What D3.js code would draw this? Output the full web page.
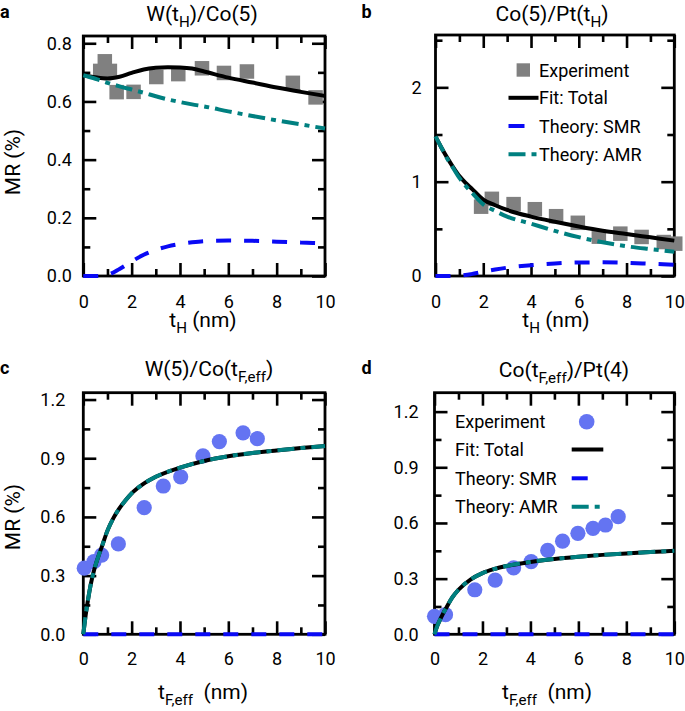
<!DOCTYPE html>
<html><head><meta charset="utf-8">
<script src="https://cdn.jsdelivr.net/npm/d3@7"></script>
<style>
body{margin:0;background:#fff}
svg{display:block}
text{font-family:Roboto,'Noto Sans',sans-serif;white-space:pre}
</style>
</head><body>
<svg id="chart" width="685" height="711"></svg>
<script>
// ---------- data ----------
const legendLabels = ["Experiment", "Fit: Total", "Theory: SMR", "Theory: AMR"];

// panel a : W(tH)/Co(5)
const aExpT  = [0.70, 0.89, 1.10, 1.38, 2.08, 3.02, 3.93, 4.91, 5.82, 6.77, 8.67, 9.61];
const aExpMR = [0.705, 0.738, 0.705, 0.632, 0.633, 0.684, 0.694, 0.714, 0.698, 0.703, 0.664, 0.614];
const aCurveT = [0, 0.5, 1, 1.5, 2, 2.5, 3, 3.5, 4, 4.5, 5, 6, 7, 8, 9, 10];
const aTotal  = [0.690, 0.683, 0.679, 0.685, 0.698, 0.710, 0.716, 0.718, 0.717, 0.713, 0.703, 0.682, 0.665, 0.648, 0.633, 0.619];
const aSMR    = [0, 0, 0.004, 0.024, 0.050, 0.073, 0.090, 0.102, 0.110, 0.116, 0.120, 0.122, 0.121, 0.118, 0.115, 0.112];
const aAMR    = [0.690, 0.678, 0.664, 0.652, 0.641, 0.630, 0.618, 0.607, 0.598, 0.590, 0.583, 0.566, 0.550, 0.535, 0.521, 0.507];
const aYTicks = [0, 0.2, 0.4, 0.6, 0.8];
const aYMinor = [0.1, 0.3, 0.5, 0.7];

// panel b : Co(5)/Pt(tH)
const bExpT  = [1.91, 2.36, 3.27, 4.16, 5.05, 5.96, 6.84, 7.74, 8.63, 9.56, 10.04];
const bExpMR = [0.735, 0.818, 0.762, 0.708, 0.634, 0.564, 0.417, 0.449, 0.414, 0.360, 0.343];
const bCurveT = [0, 0.25, 0.5, 0.75, 1, 1.25, 1.5, 2, 2.5, 3, 4, 5, 6, 7, 8, 9, 10];
const bTotal  = [1.48, 1.36, 1.25, 1.15, 1.06, 0.99, 0.93, 0.81, 0.75, 0.70, 0.63, 0.575, 0.525, 0.480, 0.445, 0.410, 0.375];
const bSMR    = [0, 0, 0, 0, 0.004, 0.010, 0.020, 0.045, 0.068, 0.088, 0.115, 0.133, 0.143, 0.145, 0.140, 0.130, 0.120];
const bAMR    = [1.48, 1.36, 1.24, 1.14, 1.04, 0.96, 0.89, 0.76, 0.69, 0.63, 0.555, 0.478, 0.412, 0.358, 0.315, 0.285, 0.258];
const bYTicks = [0, 1, 2];
const bYMinor = [0.5, 1.5, 2.5];

// panel c : W(5)/Co(tF,eff)
const cExpT  = [0.04, 0.44, 0.76, 1.45, 2.52, 3.31, 4.03, 4.95, 5.63, 6.61, 7.20];
const cExpMR = [0.338, 0.371, 0.405, 0.462, 0.648, 0.758, 0.805, 0.912, 0.985, 1.030, 1.000];
const cCurveT = [0, 0.1, 0.2, 0.3, 0.45, 0.6, 0.8, 1, 1.25, 1.5, 1.75, 2, 2.5, 3, 4, 5, 6, 7, 8, 9, 10];
const cTotal  = [0, 0.10, 0.18, 0.25, 0.33, 0.39, 0.46, 0.53, 0.595, 0.645, 0.685, 0.72, 0.77, 0.805, 0.852, 0.886, 0.910, 0.927, 0.940, 0.952, 0.962];
const cSMR    = [0, 0, 0, 0, 0, 0, 0, 0, 0, 0, 0, 0, 0, 0, 0, 0, 0, 0, 0, 0, 0];
const cAMR    = [0, 0.10, 0.18, 0.25, 0.33, 0.39, 0.46, 0.53, 0.595, 0.645, 0.685, 0.72, 0.77, 0.805, 0.852, 0.886, 0.910, 0.927, 0.940, 0.952, 0.962];
const cYTicks = [0, 0.3, 0.6, 0.9, 1.2];
const cYMinor = [0.15, 0.45, 0.75, 1.05];

// panel d : Co(tF,eff)/Pt(4)
const dExpT  = [0, 0.46, 1.68, 2.53, 3.30, 4.03, 4.72, 5.34, 5.98, 6.61, 7.13, 7.66];
const dExpMR = [0.097, 0.106, 0.240, 0.292, 0.358, 0.392, 0.452, 0.502, 0.544, 0.571, 0.589, 0.634];
const dCurveT = [0, 0.1, 0.2, 0.35, 0.5, 0.75, 1, 1.5, 2, 2.5, 3, 4, 5, 6, 7, 8, 9, 10];
const dTotal  = [0, 0.04, 0.07, 0.11, 0.145, 0.20, 0.24, 0.295, 0.33, 0.352, 0.368, 0.390, 0.406, 0.418, 0.428, 0.436, 0.443, 0.450];
const dSMR    = [0, 0, 0, 0, 0, 0, 0, 0, 0, 0, 0, 0, 0, 0, 0, 0, 0, 0];
const dAMR    = [0, 0.04, 0.07, 0.11, 0.145, 0.20, 0.24, 0.295, 0.33, 0.352, 0.368, 0.390, 0.406, 0.418, 0.428, 0.436, 0.443, 0.450];
const dYTicks = [0, 0.3, 0.6, 0.9, 1.2];
const dYMinor = [0.15, 0.45, 0.75, 1.05];

const xTicks = [0, 2, 4, 6, 8, 10];
const xMinor = [1, 3, 5, 7, 9];

// ---------- style ----------
const COL = {exp: "#808080", circ: "#6474f2", total: "#000000", smr: "#0a0af5", amr: "#008080"};
const DASH = {smr: "15,13", amr: "17,6,5,6"};
const LW = 4;

const svg = d3.select("#chart");

function richText(parent, x, y, parts, fs, opts = {}) {
  const t = parent.append("text").attr("x", x).attr("y", y)
    .attr("font-size", fs).attr("text-anchor", opts.anchor || "middle").attr("fill", "#000");
  if (opts.rotate) t.attr("transform", `rotate(${opts.rotate},${x},${y})`);
  if (opts.weight) t.attr("font-weight", opts.weight);
  let shifted = false;
  parts.forEach(([s, sub]) => {
    const ts = t.append("tspan").text(s);
    if (sub && !shifted) { ts.attr("dy", 0.3 * fs).attr("font-size", fs * 0.72); shifted = true; }
    else if (!sub && shifted) { ts.attr("dy", -0.3 * fs); shifted = false; }
  });
  return t;
}

function styleAxis(sel) {
  sel.select(".domain").remove();
  sel.attr("font-size", 18).attr("font-family", "Roboto, 'Noto Sans', sans-serif");
  sel.selectAll("line").attr("stroke", "#000").attr("stroke-width", 2.6);
  sel.selectAll("text").attr("fill", "#000");
}

function drawPanel(p) {
  const x = d3.scaleLinear().domain([0, 10]).range([p.box.l, p.box.r]);
  const y = d3.scaleLinear().domain(p.yDom).range([p.box.b, p.box.t]);
  const g = svg.append("g");
  const B = p.box;

  // axes & ticks (inward, all four sides)
  g.append("g").attr("transform", `translate(0,${B.b})`)
    .call(d3.axisBottom(x).tickValues(xTicks).tickSize(-13).tickPadding(p.xPad).tickFormat(d3.format("d"))).call(styleAxis);
  g.append("g").attr("transform", `translate(0,${B.b})`)
    .call(d3.axisBottom(x).tickValues(xMinor).tickSize(-7).tickFormat("")).call(styleAxis);
  g.append("g").attr("transform", `translate(0,${B.t})`)
    .call(d3.axisTop(x).tickValues(xTicks).tickSize(-13).tickFormat("")).call(styleAxis);
  g.append("g").attr("transform", `translate(0,${B.t})`)
    .call(d3.axisTop(x).tickValues(xMinor).tickSize(-7).tickFormat("")).call(styleAxis);
  g.append("g").attr("transform", `translate(${B.l},0)`)
    .call(d3.axisLeft(y).tickValues(p.yTicks).tickSize(-13).tickPadding(p.yPad).tickFormat(d3.format(p.yFmt))).call(styleAxis);
  g.append("g").attr("transform", `translate(${B.l},0)`)
    .call(d3.axisLeft(y).tickValues(p.yMinor).tickSize(-7).tickFormat("")).call(styleAxis);
  g.append("g").attr("transform", `translate(${B.r},0)`)
    .call(d3.axisRight(y).tickValues(p.yTicks).tickSize(-13).tickFormat("")).call(styleAxis);
  g.append("g").attr("transform", `translate(${B.r},0)`)
    .call(d3.axisRight(y).tickValues(p.yMinor).tickSize(-7).tickFormat("")).call(styleAxis);

  g.append("rect").attr("x", B.l).attr("y", B.t).attr("width", B.r - B.l).attr("height", B.b - B.t)
    .attr("fill", "none").attr("stroke", "#000").attr("stroke-width", 2.8);

  // experimental markers
  const pts = p.expT.map((t, i) => [t, p.expMR[i]]);
  if (p.marker === "square") {
    const s = 14.5;
    g.selectAll(null).data(pts).join("rect")
      .attr("x", d => x(d[0]) - s / 2).attr("y", d => y(d[1]) - s / 2)
      .attr("width", s).attr("height", s).attr("fill", COL.exp);
  } else {
    g.selectAll(null).data(pts).join("circle")
      .attr("cx", d => x(d[0])).attr("cy", d => y(d[1])).attr("r", 7.6).attr("fill", COL.circ);
  }

  // curves
  const line = d3.line().x(d => x(d[0])).y(d => y(d[1])).curve(d3.curveMonotoneX);
  const series = (arr) => p.curveT.map((t, i) => [t, arr[i]]);
  g.append("path").attr("d", line(series(p.total))).attr("fill", "none")
    .attr("stroke", COL.total).attr("stroke-width", LW);
  g.append("path").attr("d", line(series(p.smr))).attr("fill", "none")
    .attr("stroke", COL.smr).attr("stroke-width", LW).attr("stroke-dasharray", DASH.smr);
  g.append("path").attr("d", line(series(p.amr))).attr("fill", "none")
    .attr("stroke", COL.amr).attr("stroke-width", LW).attr("stroke-dasharray", DASH.amr);

  // texts
  svg.append("text").attr("x", p.letter[0]).attr("y", p.letter[1]).attr("font-size", 18)
    .attr("font-weight", "bold").text(p.id);
  richText(svg, p.titlePos[0], p.titlePos[1], p.title, 21);
  richText(svg, p.xLabPos[0], p.xLabPos[1], p.xLab, 21);
  if (p.yLab) richText(svg, p.yLabPos[0], p.yLabPos[1], [["MR (%)"]], 21, {rotate: -90});

  // legend
  if (p.legend) {
    const L = p.legend;
    const lg = svg.append("g");
    L.rows.forEach((cy, i) => {
      lg.append("text").attr("x", L.textX).attr("y", cy + 6.5).attr("font-size", 18).text(legendLabels[i]);
    });
    if (p.marker === "square") {
      lg.append("rect").attr("x", L.markX - 6.7).attr("y", L.rows[0] - 6.7).attr("width", 13.4).attr("height", 13.4).attr("fill", COL.exp);
    } else {
      lg.append("circle").attr("cx", L.markX).attr("cy", L.rows[0]).attr("r", 7.8).attr("fill", COL.circ);
    }
    lg.append("line").attr("x1", L.lineX[0]).attr("x2", L.lineX[1]).attr("y1", L.rows[1]).attr("y2", L.rows[1])
      .attr("stroke", COL.total).attr("stroke-width", LW);
    lg.append("line").attr("x1", L.lineX[0]).attr("x2", L.lineX[0] + 16).attr("y1", L.rows[2]).attr("y2", L.rows[2])
      .attr("stroke", COL.smr).attr("stroke-width", LW);
    lg.append("line").attr("x1", L.lineX[0]).attr("x2", L.lineX[1]).attr("y1", L.rows[3]).attr("y2", L.rows[3])
      .attr("stroke", COL.amr).attr("stroke-width", LW).attr("stroke-dasharray", DASH.amr);
  }
}

const subH = [["t"], ["H", 1], [" (nm)"]];
const subF = [["t"], ["F,eff", 1], ["  (nm)"]];

const panels = [
  {id: "a", box: {l: 83.3, r: 325, t: 36, b: 276}, yDom: [0, 0.825], yTicks: aYTicks, yMinor: aYMinor, yFmt: ".1f",
   yPad: 11.5, xPad: 19, marker: "square", expT: aExpT, expMR: aExpMR,
   curveT: aCurveT, total: aTotal, smr: aSMR, amr: aAMR,
   letter: [0, 18], title: [["W(t"], ["H", 1], [")/Co(5)"]], titlePos: [202, 20.7],
   xLab: subH, xLabPos: [203, 327], yLab: true, yLabPos: [19.5, 162]},
  {id: "b", box: {l: 435.5, r: 674.3, t: 35, b: 276}, yDom: [0, 2.555], yTicks: bYTicks, yMinor: bYMinor, yFmt: "d",
   yPad: 14, xPad: 19, marker: "square", expT: bExpT, expMR: bExpMR,
   curveT: bCurveT, total: bTotal, smr: bSMR, amr: bAMR,
   letter: [361.5, 17.5], title: [["Co(5)/Pt(t"], ["H", 1], [")"]], titlePos: [552, 20.7],
   xLab: subH, xLabPos: [556, 327], yLab: false,
   legend: {rows: [70, 97.8, 126, 154.3], textX: 539, markX: 523.3, lineX: [508.5, 538.5]}},
  {id: "c", box: {l: 83.3, r: 325, t: 392.7, b: 634.3}, yDom: [0, 1.235], yTicks: cYTicks, yMinor: cYMinor, yFmt: ".1f",
   yPad: 18, xPad: 18, marker: "circle", expT: cExpT, expMR: cExpMR,
   curveT: cCurveT, total: cTotal, smr: cSMR, amr: cAMR,
   letter: [0, 374], title: [["W(5)/Co(t"], ["F,eff", 1], [")"]], titlePos: [209, 376],
   xLab: subF, xLabPos: [203, 699], yLab: true, yLabPos: [19.5, 517]},
  {id: "d", box: {l: 434.5, r: 674.3, t: 392.7, b: 634.3}, yDom: [0, 1.302], yTicks: dYTicks, yMinor: dYMinor, yFmt: ".1f",
   yPad: 16, xPad: 18, marker: "circle", expT: dExpT, expMR: dExpMR,
   curveT: dCurveT, total: dTotal, smr: dSMR, amr: dAMR,
   letter: [361.5, 374], title: [["Co(t"], ["F,eff", 1], [")/Pt(4)"]], titlePos: [564, 376.5],
   xLab: subF, xLabPos: [547, 699], yLab: false,
   legend: {rows: [421.7, 449.5, 478.3, 506.7], textX: 455, markX: 586.7, lineX: [571.7, 603.3]}}
];

panels.forEach(drawPanel);
</script>
</body></html>
